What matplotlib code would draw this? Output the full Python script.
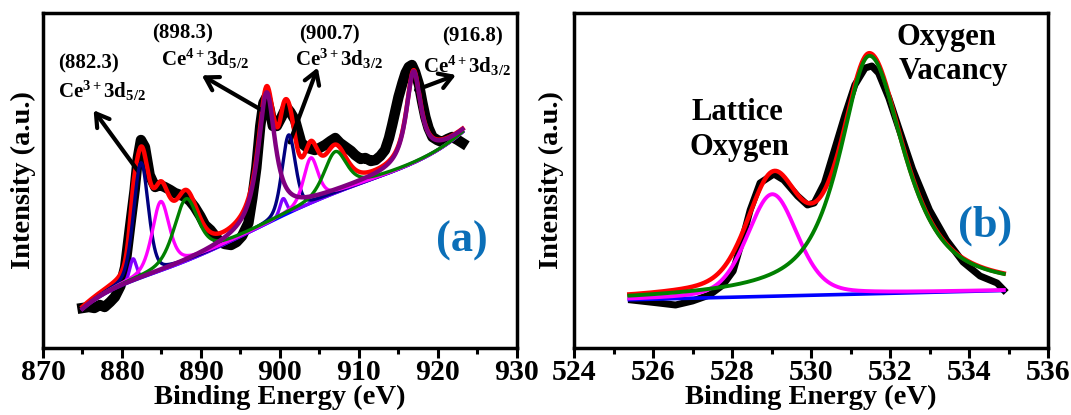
import numpy as np
import matplotlib.pyplot as plt

plt.rcParams['font.family'] = 'Liberation Serif'
plt.rcParams['font.weight'] = 'bold'
plt.rcParams['mathtext.fontset'] = 'custom'
plt.rcParams['mathtext.rm'] = 'Liberation Serif:bold'
plt.rcParams['mathtext.it'] = 'Liberation Serif:bold'
plt.rcParams['mathtext.bf'] = 'Liberation Serif:bold'

# ---- Ce 3d spectrum ----
ce_raw_e = [875.0, 875.8, 876.5, 877.2, 877.8, 878.5, 879.1, 879.8, 880.4, 881.0,
            881.6, 882.0, 882.4, 882.9, 883.5, 884.2, 884.8, 885.4, 886.1, 886.7,
            887.4, 888.0, 888.6, 889.2, 889.9, 890.5, 891.2, 891.8, 892.4, 893.0,
            893.8, 894.5, 895.2, 896.0, 896.5, 897.0, 897.5, 897.9, 898.3, 898.7,
            899.1, 899.6, 900.2, 900.8, 901.3, 901.9, 902.7, 903.5, 904.4, 905.0,
            905.7, 906.4, 907.0, 907.6, 908.3, 909.0, 909.5, 910.2, 910.8, 911.5,
            912.1, 912.7, 913.3, 913.8, 914.2, 914.6, 915.0, 915.5, 915.9, 916.3,
            916.7, 917.1, 917.6, 918.0, 918.4, 918.8, 919.3, 919.9, 920.5, 921.2,
            921.8, 922.5, 923.1]
ce_raw_i = [40, 41, 40, 43, 41, 46, 51, 62, 81, 120,
            158, 190, 208, 201, 173, 161, 163, 161, 158, 155,
            153, 151, 147, 141, 132, 123, 118, 112, 106, 104,
            103, 106, 112, 125, 150, 180, 222, 245, 251, 238,
            222, 222, 231, 241, 236, 228, 205, 200, 198, 200,
            203, 207, 210, 205, 201, 197, 193, 189, 190, 187,
            188, 192, 198, 210, 223, 237, 251, 265, 275, 281,
            283, 276, 263, 246, 231, 220, 211, 208, 206, 209,
            211, 208, 205]

ce_bg_e = [874.8, 878.2, 880.7, 882.4, 886.6, 891.7, 893.0, 896.0, 898.9,
           904.4, 910.8, 912.1, 915.9, 919.3, 923.1]
ce_bg_i = [38, 53, 68, 71, 81, 96, 105, 120, 125, 145, 168, 170, 181, 195, 216]

# doublets: Ce3+ satellite, Ce3+ main, shake-up pair, Ce3+ high, Ce4+
ce_centers = [881.4, 900.4, 882.4, 901.1, 884.9, 903.9, 888.1, 907.0, 898.3, 916.9]
ce_heights = [22, 17, 115, 78, 69, 45, 62, 41, 131, 91]
ce_fwhm = [1.0, 1.0, 2.2, 2.0, 2.6, 2.2, 3.6, 3.4, 2.6, 2.2]
ce_eta = [0.3, 0.3, 0.3, 0.3, 0.5, 0.5, 0.5, 0.5, 0.9, 0.9]
ce_colors = ['#8000ff', '#000080', '#ff00ff', '#008000', '#800080']

# ---- O 1s spectrum ----
o_raw_e = [525.46, 526.14, 526.57, 527.0, 527.43, 527.77, 528.03, 528.28, 528.46,
           528.71, 529.06, 529.31, 529.66, 529.91, 530.08, 530.34, 530.6, 530.86,
           531.11, 531.37, 531.54, 531.71, 531.97, 532.23, 532.57, 533.0, 533.43,
           533.85, 534.28, 534.71, 534.88]
o_raw_i = [48, 45, 43, 47, 53, 63, 77, 111, 138,
           165, 174, 168, 152, 143, 145, 165, 199, 233,
           263, 280, 282, 275, 250, 219, 179, 138, 108,
           86, 72, 65, 58]

o_bg_e = [525.46, 534.88]
o_bg_i = [48.3, 57.5]

o_centers = [529.02, 531.48]
o_heights = [102, 238]
o_fwhm_left = [1.5, 1.8]
o_fwhm_right = [1.5, 2.1]
o_eta = [0.3, 0.8]
o_colors = ['#ff00ff', '#008000']


def pvoigt(x, c, h, wl, wr, eta):
    w = np.where(x < c, wl, wr)
    u = (x - c) / w
    lor = 1.0 / (1.0 + 4.0 * u ** 2)
    gau = np.exp(-4.0 * np.log(2) * u ** 2)
    return h * (eta * lor + (1 - eta) * gau)


def style_axes(ax, xmin, xmax, major, minor):
    ax.set_xlim(xmin, xmax)
    ax.set_ylim(0, 335)
    ax.set_xticks(np.arange(xmin, xmax + 0.01, major))
    ax.set_xticks(np.arange(xmin + minor, xmax, major), minor=True)
    ax.set_yticks([])
    for s in ax.spines.values():
        s.set_linewidth(2.5)
    ax.tick_params(axis='x', which='major', direction='out', length=7, width=2.2,
                   labelsize=21.5, pad=1)
    ax.tick_params(axis='x', which='minor', direction='out', length=4, width=2.2)
    for lab in ax.get_xticklabels():
        lab.set_fontweight('bold')
    ax.set_xlabel('Binding Energy (eV)', fontsize=20.5, fontweight='bold', labelpad=-1)
    ax.set_ylabel('Intensity (a.u.)', fontsize=20.5, fontweight='bold')


fig = plt.figure(figsize=(10.71, 4.15), dpi=100)
ax1 = fig.add_axes([43 / 1071, 67 / 415, 474 / 1071, 335 / 415])
ax2 = fig.add_axes([574 / 1071, 67 / 415, 474 / 1071, 335 / 415])

# left panel
x1 = np.arange(875.0, 923.1, 0.05)
bg1 = np.polyval(np.polyfit((np.array(ce_bg_e) - 899) / 24, ce_bg_i, 6), (x1 - 899) / 24)
comps = []
for k in range(len(ce_colors)):
    y = bg1.copy()
    for j in (2 * k, 2 * k + 1):
        y += pvoigt(x1, ce_centers[j], ce_heights[j], ce_fwhm[j], ce_fwhm[j], ce_eta[j])
    comps.append(y)
total1 = bg1 + sum(c - bg1 for c in comps)

ax1.plot(ce_raw_e, ce_raw_i, color='black', lw=7.5, solid_joinstyle='round', zorder=1)
ax1.plot(x1, total1, color='red', lw=3.2, zorder=2)
ax1.plot(x1, bg1, color='blue', lw=2.3, zorder=3)
for k, col in enumerate(ce_colors):
    ax1.plot(x1, comps[k], color=col, lw=3.2 if col == '#800080' else 2.4, zorder=4 + k)

style_axes(ax1, 870, 930, 10, 5)
ax1.yaxis.set_label_coords(-0.015, 0.5)

arrow = dict(arrowstyle='->,head_length=0.9,head_width=0.55', lw=3, color='black')
ann = [('(882.3)', r'Ce$^{3+}$3d$_{5/2}$', (875.8, 285), (877.5, 257), (882.3, 174), (876.2, 240)),
       ('(898.3)', r'Ce$^{4+}$3d$_{5/2}$', (887.7, 315), (890.5, 289), (898.1, 236), (889.8, 274)),
       ('(900.7)', r'Ce$^{3+}$3d$_{3/2}$', (906.2, 314), (907.4, 289), (901.1, 203), (904.9, 283)),
       ('(916.8)', r'Ce$^{4+}$3d$_{3/2}$', (924.4, 312), (923.7, 282), (916.9, 257), (922.6, 274))]
for val, name, pv, pn, tail, head in ann:
    ax1.text(*pv, val, fontsize=15, fontweight='bold', ha='center', va='center')
    ax1.text(*pn, name, fontsize=15, fontweight='bold', ha='center', va='center')
    ax1.annotate('', xy=head, xytext=tail, arrowprops=arrow)
ax1.text(923.0, 107, '(a)', fontsize=32, fontweight='bold', color='#0b6fb8',
         ha='center', va='center')

# right panel
x2 = np.arange(525.4, 534.9, 0.02)
bg2 = np.interp(x2, o_bg_e, o_bg_i)
o_comps = [bg2 + pvoigt(x2, o_centers[j], o_heights[j], o_fwhm_left[j], o_fwhm_right[j], o_eta[j])
           for j in range(2)]
total2 = bg2 + sum(c - bg2 for c in o_comps)

ax2.plot(o_raw_e, o_raw_i, color='black', lw=5, solid_joinstyle='round', zorder=1)
ax2.plot(x2, bg2, color='blue', lw=2.6, zorder=2)
ax2.plot(x2, o_comps[0], color=o_colors[0], lw=2.8, zorder=3)
ax2.plot(x2, total2, color='red', lw=3.2, zorder=4)
ax2.plot(x2, o_comps[1], color=o_colors[1], lw=2.8, zorder=5)

style_axes(ax2, 524, 536, 2, 1)
ax2.yaxis.set_label_coords(-0.021, 0.5)
ax2.text(528.13, 236, 'Lattice', fontsize=22, fontweight='bold', ha='center', va='center')
ax2.text(528.2, 201, 'Oxygen', fontsize=22, fontweight='bold', ha='center', va='center')
ax2.text(533.44, 311, 'Oxygen', fontsize=22, fontweight='bold', ha='center', va='center')
ax2.text(533.6, 277, 'Vacancy', fontsize=22, fontweight='bold', ha='center', va='center')
ax2.text(534.4, 122, '(b)', fontsize=32, fontweight='bold', color='#0b6fb8',
         ha='center', va='center')

fig.savefig('out.png', dpi=100)
